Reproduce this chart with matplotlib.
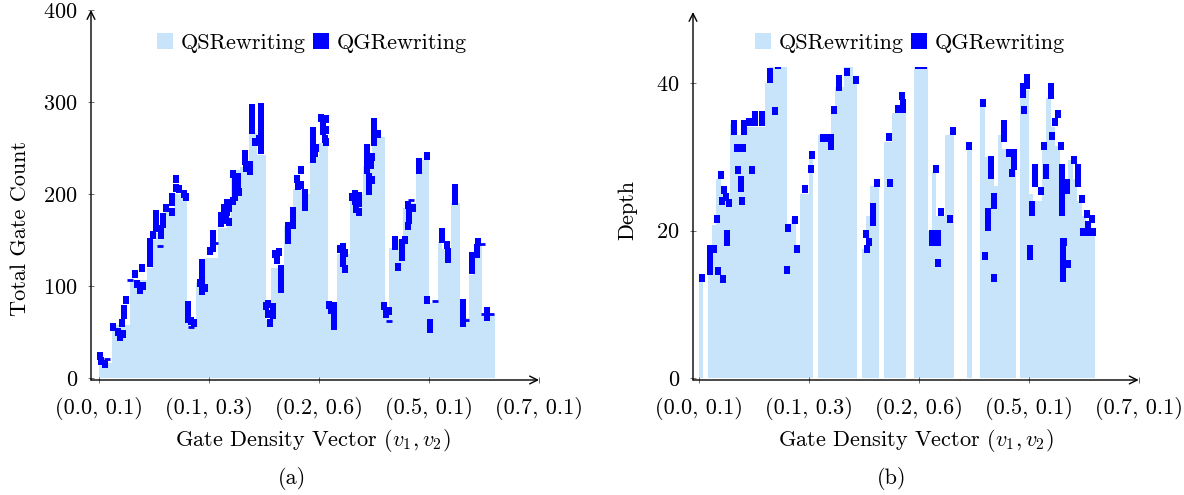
import matplotlib
matplotlib.use("Agg")
import matplotlib.pyplot as plt
from matplotlib.patches import Patch, Rectangle

plt.rcParams['font.family'] = 'serif'
plt.rcParams['font.serif'] = ['cmr10']
plt.rcParams['mathtext.fontset'] = 'cm'
plt.rcParams['axes.formatter.use_mathtext'] = True

# ---------------- data ----------------
tick_pos = [0, 25, 50, 75, 100]
tick_labels = ["(0.0, 0.1)", "(0.1, 0.3)", "(0.2, 0.6)", "(0.5, 0.1)", "(0.7, 0.1)"]

# QSRewriting total gate count (one bar per configuration index 0..89)
qs_total = [16, 16, 16, 58, 58, 58, 58, 106, 106, 106,
            106, 120, 150, 158, 165, 180, 185, 200, 200, 193,
            60, 60, 103, 103, 130, 130, 130, 163, 163, 175,
            226, 226, 229, 229, 266, 266, 242, 242, 63, 120,
            120, 120, 165, 170, 205, 210, 205, 200, 237, 240,
            255, 255, 80, 80, 135, 135, 135, 200, 200, 200,
            230, 240, 255, 262, 262, 75, 141, 145, 150, 185,
            190, 190, 237, 237, 240, 82, 82, 148, 140, 125,
            190, 190, 65, 65, 112, 135, 145, 70, 70, 70]

# QGRewriting total gate count samples (position, value)
qg_total_x = [0.3, 0.4, 1.3, 3.2, 4.3, 4.7, 5.3, 5.5, 5.6, 5.6, 6.2,
              8.2, 8.6, 9.4, 10.0, 9.7, 11.6, 11.6, 11.6, 11.6, 12.3,
              12.9, 12.9, 12.9, 14.0, 14.0, 14.5, 14.5, 15.3, 16.5, 16.5, 16.7,
              17.5, 17.5, 18.2, 19.3, 19.8, 20.3, 20.3, 20.3, 21.0, 21.6,
              23.3, 23.3, 23.3, 23.3, 23.3, 22.9, 24.2, 25.2, 25.8, 26.0, 26.0,
              27.8, 27.8, 28.5, 29.1, 29.1, 28.8, 29.6, 29.6,
              30.5, 30.8, 30.9, 31.0, 31.5, 31.9, 31.5, 30.5,
              33.2, 33.2, 33.5, 34.3, 34.3, 34.8, 34.8, 34.8, 34.8, 35.4,
              36.8, 36.8, 36.8, 36.8, 36.8, 36.8, 36.8, 36.3,
              37.9, 38.3, 38.9, 39.6, 39.6, 38.5, 40.0, 40.4, 40.8,
              41.3, 41.3, 41.3, 41.3, 43.0, 43.0, 43.0, 44.2, 44.2, 44.2,
              45.0, 45.3, 45.8, 45.8, 46.8, 46.8, 46.8,
              48.6, 48.6, 48.6, 48.6, 48.6, 49.1, 49.3,
              50.5, 50.8, 51.0, 51.3, 51.6, 51.6, 51.6,
              52.2, 52.8, 53.5, 53.5, 53.5, 53.5,
              54.8, 55.5, 55.5, 55.5, 55.8, 56.0,
              57.5, 58.2, 58.2, 58.5, 59.2, 59.2, 59.0,
              60.8, 60.8, 61.0, 61.0, 61.3, 61.3, 61.3, 61.8, 62.0, 62.0,
              62.4, 62.4, 62.4, 62.4, 63.4, 64.8, 65.2, 65.8,
              67.2, 67.2, 67.9, 68.9, 68.9, 68.9, 69.5,
              70.2, 70.5, 70.5, 70.2, 71.3, 72.8, 72.8, 74.5, 74.6, 75.2, 75.2,
              78.0, 78.0, 79.0, 79.3, 79.3, 81.0, 81.0, 81.0,
              82.7, 82.7, 82.7, 82.7, 84.8, 84.8, 84.8, 86.1, 86.0, 85.8,
              88.2, 88.2]
qg_total_y = [24, 18, 15, 55, 50, 44, 60, 48, 75, 68, 85,
              113, 102, 96, 100, 120, 125, 133, 141, 148, 155,
              178, 170, 163, 162, 155, 175, 167, 185, 197, 191, 180,
              216, 207, 205, 200, 197, 79, 72, 64, 62, 60,
              125, 117, 110, 102, 95, 103, 98, 138, 141, 156, 149,
              168, 176, 185, 190, 180, 172, 170, 185,
              222, 213, 205, 197, 210, 202, 218, 192,
              243, 236, 228, 225, 232, 293, 285, 277, 270, 256,
              295, 287, 279, 271, 263, 255, 248, 260,
              78, 70, 60, 77, 68, 80, 135, 128, 137,
              118, 110, 102, 97, 165, 157, 150, 182, 174, 166,
              216, 209, 210, 226, 201, 193, 186,
              268, 260, 252, 244, 238, 245, 250,
              283, 275, 268, 260, 256, 282, 270,
              79, 74, 78, 70, 62, 57,
              140, 142, 133, 125, 118, 136,
              197, 200, 192, 184, 198, 190, 180,
              250, 242, 234, 226, 218, 210, 203, 232, 215, 240,
              278, 270, 262, 256, 265, 78, 70, 73,
              150, 144, 121, 147, 139, 131, 150,
              188, 180, 172, 165, 185, 235, 226, 241, 85, 60, 53,
              159, 151, 145, 137, 129, 207, 199, 192,
              82, 74, 66, 60, 133, 125, 117, 148, 141, 135,
              73, 66]
# partly hidden QGRewriting samples (thin dashes at bar tops)
qg_total_dash_x = [1.8, 7.0, 13.8, 20.8, 26.3, 66.0, 70.8, 76.4, 83.4, 87.0, 87.6, 89.2]
qg_total_dash_y = [21, 106, 143, 55, 147, 62, 194, 84, 63, 146, 70, 70]

# QSRewriting depth
qs_depth = [13, 0, 17.5, 20.7, 27, 25, 24, 34.5, 33, 33,
            33, 34, 34, 34, 34, 40, 42.5, 42.5, 42.5, 42.5,
            20, 21.5, 18, 25, 25, 30, 0, 33, 33, 33,
            36.7, 39.4, 39.4, 42.5, 42.5, 40, 0, 17.5, 22, 26,
            26, 0, 32, 32, 36, 36, 37.5, 0, 0, 42.5,
            42.5, 42.5, 20, 28, 22, 22, 33, 33, 0, 0,
            0, 31, 0, 0, 37, 30, 30, 26, 33, 31,
            31, 31, 0, 39, 39, 25, 24, 24, 31, 38,
            34, 31.5, 29, 25, 29.5, 27, 24, 22, 21, 20]

qg_depth_x = [0.7, 2.5, 3.5, 2.6, 2.6, 2.6, 4.1, 4.4, 5.6, 5.1, 5.7,
              5.3, 6.2, 6.8, 6.4, 6.4, 8.0, 8.0, 8.6, 9.0, 9.5, 9.5, 9.8,
              10.2, 10.2, 10.1, 11.4, 12.2, 12.8, 12.8, 14.3, 14.3,
              16.1, 16.1, 17.3, 18.0, 20.3, 20.1, 21.8, 22.3, 24.1, 25.6, 25.8,
              28.3, 29.3, 30.0, 30.0, 30.8, 31.8, 31.8, 33.6, 35.7,
              38.0, 38.8, 38.2, 39.5, 39.5, 39.5, 40.6, 43.3, 43.5,
              45.2, 46.3, 46.5, 46.5, 49.8, 51.3, 53.0, 53.0, 54.0,
              54.4, 54.4, 54.3, 55.0, 57.7, 57.0, 61.5, 64.7, 65.0,
              66.5, 66.5, 66.5, 65.7, 65.7, 65.7, 67.2, 67.2, 67.0,
              69.4, 69.4, 69.4, 70.5, 71.7, 71.6, 71.6, 71.1,
              73.7, 73.7, 74.5, 74.5, 73.9, 76.4, 76.4, 76.4, 75.7, 75.7,
              75.2, 75.2, 77.7, 78.5, 79.0, 79.0, 80.0, 80.0, 80.3, 80.9, 81.7,
              82.3, 82.5, 82.5, 82.5, 82.5, 82.5, 82.5, 82.5,
              82.7, 82.7, 82.7, 82.7, 82.7, 82.7, 83.1, 83.6, 83.6, 83.9,
              85.2, 86.1, 86.1, 86.1, 87.1, 88.2, 89.4, 88.4, 88.4,
              87.4, 88.6, 89.6]
qg_depth_y = [13.5, 17.5, 17.5, 14.5, 15.5, 16.5, 21.6, 14.5, 13.4, 27.5, 25.5,
              24.0, 24.5, 23.7, 18.5, 19.5, 33.5, 34.5, 31.2, 28.2, 25.8, 26.8, 24.0,
              33.5, 34.5, 31.2, 34.7, 28.2, 34.7, 35.7, 34.7, 35.7,
              40.5, 41.5, 36.2, 42.5, 20.3, 14.6, 21.4, 17.5, 25.6, 28.3, 30.3,
              32.6, 32.6, 31.5, 32.6, 36.4, 39.5, 40.5, 41.5, 40.4,
              19.5, 18.5, 17.5, 21.2, 22.2, 23.2, 26.5, 32.7, 26.5,
              36.5, 38.2, 36.5, 37.3, 42.5, 42.5, 18.5, 19.5, 28.3,
              18.5, 19.5, 15.6, 22.5, 33.5, 21.5, 31.5, 37.3, 16.5,
              27.5, 28.5, 29.5, 20.5, 21.5, 22.5, 23.5, 24.5, 13.5,
              32.5, 33.5, 34.5, 30.5, 30.5, 28.7, 29.7, 27.8,
              38.5, 39.5, 39.7, 40.7, 36.4, 26.5, 27.5, 28.5, 22.5, 23.5,
              16.5, 17.5, 25.3, 31.5, 27.5, 28.5, 38.4, 39.4, 32.8, 34.7, 35.8,
              31.5, 22.5, 23.5, 24.5, 25.5, 26.5, 27.5, 28.5,
              13.5, 14.5, 15.5, 16.5, 17.5, 18.5, 18.5, 25.5, 26.5, 15.5,
              29.5, 26.5, 27.5, 28.5, 24.3, 22.3, 21.5, 19.8, 20.8,
              19.8, 19.8, 19.8]

QS_COLOR = "#C8E4FB"
QG_COLOR = "#0000FF"

# slightly tall rectangular mark (pgfplots square mark look)
MARK = [(-0.4, -0.5), (0.4, -0.5), (0.4, 0.5), (-0.4, 0.5), (-0.4, -0.5)]

W, H = 1184, 495
fig = plt.figure(figsize=(W / 100, H / 100), dpi=100)

def setup_axis(ax, xlim, ylim, yticks):
    ax.set_xlim(*xlim)
    ax.set_ylim(*ylim)
    for s in ax.spines.values():
        s.set_visible(False)
    ax.annotate('', xy=(1, 0), xytext=(0, 0), xycoords='axes fraction',
                arrowprops=dict(arrowstyle='->', lw=1.0, color='black',
                                shrinkA=0, shrinkB=0, mutation_scale=14))
    ax.annotate('', xy=(0, 1), xytext=(0, 0), xycoords='axes fraction',
                arrowprops=dict(arrowstyle='->', lw=1.0, color='black',
                                shrinkA=0, shrinkB=0, mutation_scale=14))
    ax.set_xticks(tick_pos)
    ax.set_xticklabels(tick_labels)
    ax.set_yticks(yticks)
    ax.tick_params(axis='both', direction='inout', length=5, width=0.6,
                   colors='#555555', labelcolor='black', labelsize=16)
    ax.tick_params(axis='x', pad=10)
    ax.tick_params(axis='y', pad=7)

idx = list(range(len(qs_total)))

# ---- panel (a) ----
axA = fig.add_axes([91 / W, (H - 380) / H, 448 / W, 370 / H])
setup_axis(axA, (-1.82, 100), (-2.2, 400), [0, 100, 200, 300, 400])
axA.bar(idx, qs_total, width=1.0, align='edge', color=QS_COLOR, linewidth=0, zorder=1)
axA.scatter(qg_total_x, qg_total_y, marker=MARK, s=34, color=QG_COLOR, linewidths=0, zorder=2)
axA.plot(qg_total_dash_x, qg_total_dash_y, linestyle='none', marker='_', markersize=5,
         markeredgewidth=2, color=QG_COLOR, zorder=2)

# ---- panel (b) ----
axB = fig.add_axes([693 / W, (H - 380) / H, 445.7 / W, 368 / H])
setup_axis(axB, (-1.3, 100), (-0.27, 49.63), [0, 20, 40])
clip = Rectangle((-1.3, -1), 102, 43.2, transform=axB.transData)
bars = axB.bar(idx, qs_depth, width=1.0, align='edge', color=QS_COLOR, linewidth=0, zorder=1)
for b in bars:
    b.set_clip_path(clip)
sc = axB.scatter(qg_depth_x, qg_depth_y, marker=MARK, s=30, color=QG_COLOR, linewidths=0, zorder=2)
sc.set_clip_path(clip)

# ---- legends ----
handles = [Patch(facecolor=QS_COLOR, edgecolor='none', label='QSRewriting'),
           Patch(facecolor=QG_COLOR, edgecolor='none', label='QGRewriting')]
for cx in (312, 910):
    fig.legend(handles=handles, loc='center', bbox_to_anchor=(cx / W, 1 - 43 / H),
               ncol=2, frameon=False, fontsize=16, handlelength=0.72, handleheight=0.72,
               handletextpad=0.35, columnspacing=0.35, borderpad=0)

# ---- labels ----
fig.text(313 / W, 1 - 440 / H, r"Gate Density Vector $(v_1, v_2)$", ha='center', va='center', fontsize=16)
fig.text(916 / W, 1 - 440 / H, r"Gate Density Vector $(v_1, v_2)$", ha='center', va='center', fontsize=16)
fig.text(292 / W, 1 - 478 / H, "(a)", ha='center', va='center', fontsize=16)
fig.text(892 / W, 1 - 478 / H, "(b)", ha='center', va='center', fontsize=16)
fig.text(20 / W, 1 - 228 / H, "Total Gate Count", ha='center', va='center', rotation=90, fontsize=16)
fig.text(628 / W, 1 - 210 / H, "Depth", ha='center', va='center', rotation=90, fontsize=16)

fig.savefig("out.png", dpi=100)
